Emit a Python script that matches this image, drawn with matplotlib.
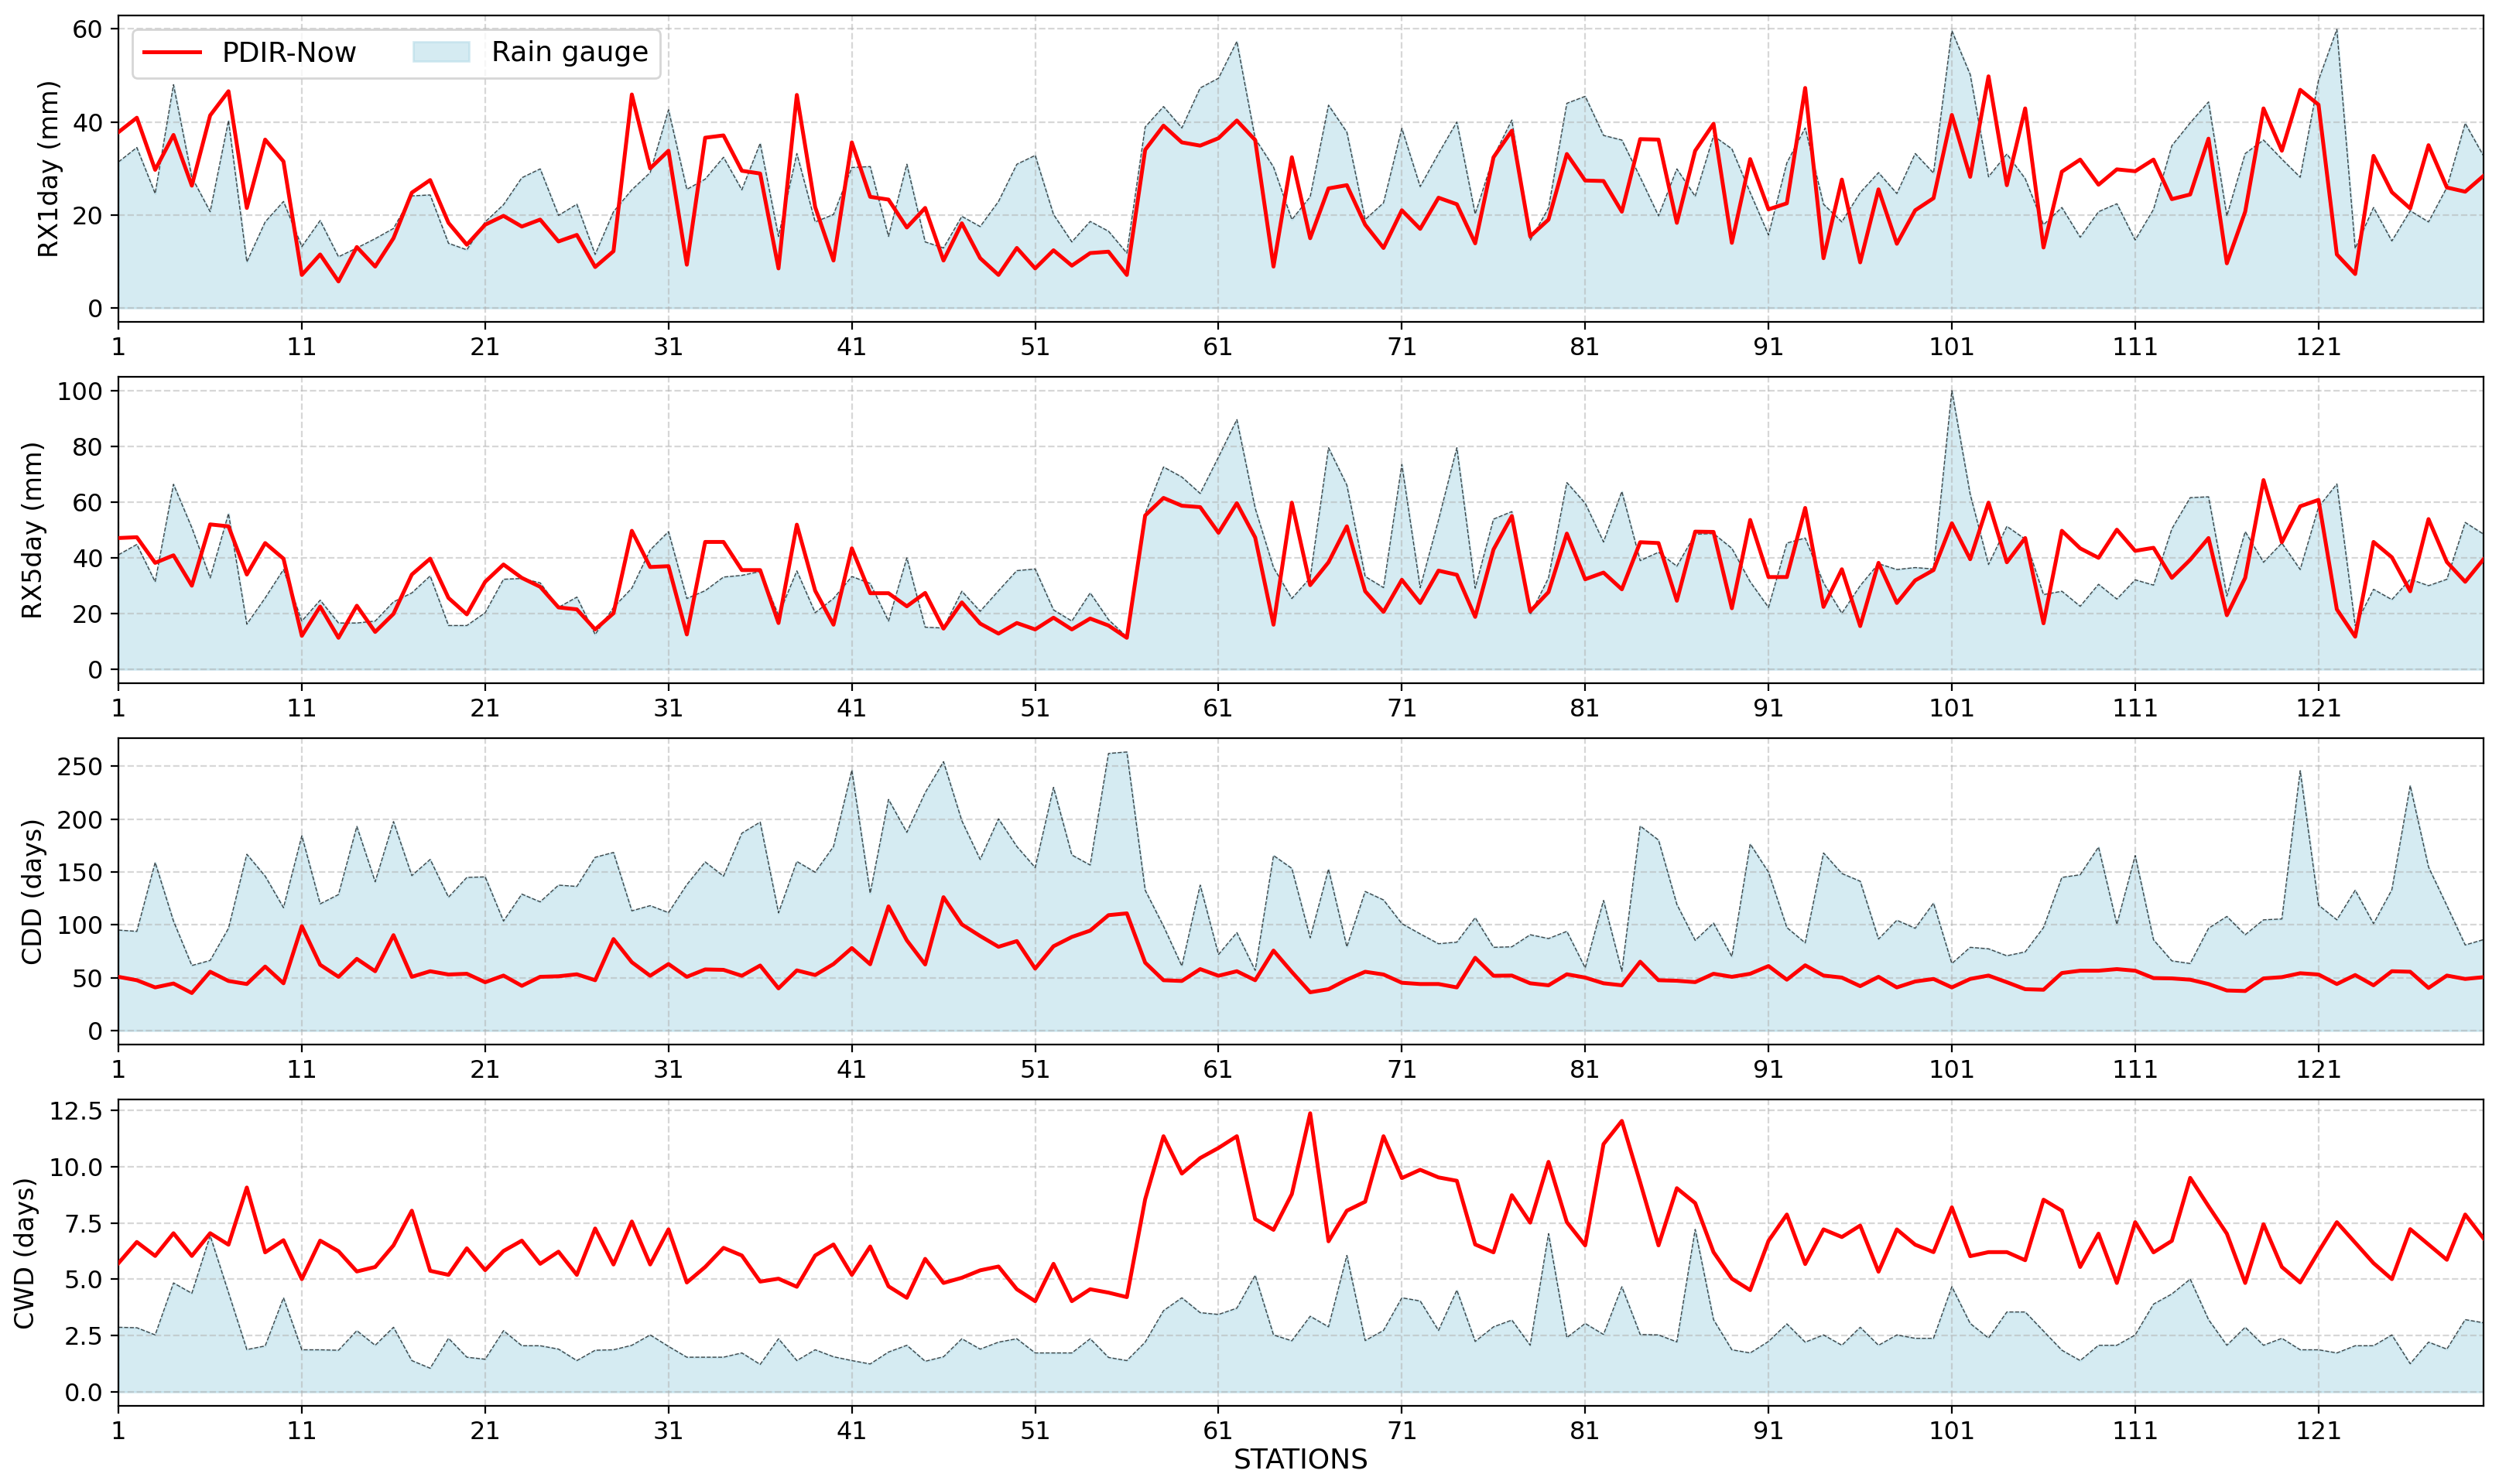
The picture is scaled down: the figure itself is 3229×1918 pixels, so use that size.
import numpy as np
import matplotlib
matplotlib.use('Agg')
import matplotlib.pyplot as plt
from matplotlib.ticker import MultipleLocator

stations = np.arange(1, 131)

rx1_pdir = [37.8, 40.9, 29.7, 37.2, 26.3, 41.4, 46.6, 21.5, 36.2, 31.5,
            7.1, 11.5, 5.7, 13.1, 8.9, 15.0, 24.8, 27.5, 18.3, 13.6,
            17.9, 19.8, 17.5, 19.0, 14.3, 15.7, 8.8, 12.2, 45.9, 30.0,
            33.8, 9.3, 36.6, 37.1, 29.5, 28.9, 8.5, 45.8, 21.7, 10.2,
            35.6, 23.9, 23.3, 17.3, 21.5, 10.2, 18.2, 10.7, 7.1, 12.9,
            8.5, 12.4, 9.1, 11.8, 12.1, 7.1, 34.0, 39.2, 35.6, 34.9,
            36.5, 40.3, 36.1, 8.9, 32.4, 15.0, 25.7, 26.4, 17.9, 12.9,
            21.0, 17.0, 23.7, 22.3, 13.9, 32.4, 38.1, 15.4, 19.0, 33.1,
            27.4, 27.3, 20.7, 36.3, 36.2, 18.3, 33.8, 39.6, 14.0, 32.0,
            21.2, 22.5, 47.3, 10.7, 27.6, 9.8, 25.5, 13.8, 21.0, 23.6,
            41.5, 28.2, 49.8, 26.4, 42.9, 13.0, 29.3, 31.9, 26.5, 29.8,
            29.4, 31.9, 23.4, 24.4, 36.4, 9.6, 20.7, 42.9, 33.8, 46.9,
            43.7, 11.5, 7.3, 32.7, 24.9, 21.4, 35.0, 25.9, 25.0, 28.4]
rx1_gauge = [31.4, 34.5, 24.6, 48.0, 28.1, 20.7, 40.3, 9.9, 18.5, 22.9,
             13.2, 18.8, 11.0, 12.9, 14.9, 17.1, 24.1, 24.3, 13.9, 12.5,
             18.5, 22.2, 28.0, 29.9, 19.9, 22.3, 11.5, 20.7, 25.4, 29.1,
             42.6, 25.5, 27.7, 32.4, 25.4, 35.4, 15.4, 33.2, 18.5, 20.1,
             30.2, 30.4, 15.4, 30.9, 14.2, 12.9, 19.7, 17.5, 22.9, 30.9,
             32.8, 20.1, 14.2, 18.6, 16.5, 11.8, 38.9, 43.3, 38.7, 47.3,
             49.4, 57.3, 36.4, 30.3, 19.0, 23.9, 43.6, 37.8, 19.0, 22.6,
             38.6, 26.1, 33.2, 40.0, 20.2, 32.5, 40.4, 14.5, 21.5, 44.0,
             45.5, 37.1, 36.1, 28.1, 19.8, 29.9, 24.0, 37.0, 34.2, 24.8,
             15.7, 31.2, 38.7, 22.3, 18.5, 24.8, 29.1, 24.6, 33.2, 29.0,
             59.6, 50.2, 28.2, 33.1, 27.8, 17.9, 21.6, 15.2, 20.7, 22.4,
             14.6, 21.2, 34.9, 39.8, 44.3, 19.8, 33.2, 36.1, 32.0, 28.1,
             49.0, 59.9, 12.8, 21.6, 14.4, 20.9, 18.5, 25.9, 39.7, 32.7]

rx5_pdir = [47.1, 47.4, 38.2, 40.9, 30.0, 52.0, 51.3, 34.0, 45.3, 39.7,
            12.0, 22.5, 11.3, 22.8, 13.4, 19.9, 34.0, 39.7, 25.6, 19.7,
            31.4, 37.6, 32.8, 29.6, 22.2, 21.5, 14.3, 20.1, 49.7, 36.7,
            37.0, 12.5, 45.7, 45.7, 35.6, 35.6, 16.6, 51.9, 28.2, 16.0,
            43.4, 27.3, 27.3, 22.6, 27.4, 14.6, 24.0, 16.4, 12.8, 16.6,
            14.3, 18.5, 14.3, 18.2, 15.7, 11.3, 55.2, 61.5, 58.7, 58.2,
            49.0, 59.6, 47.3, 16.0, 59.8, 30.2, 38.4, 51.3, 28.0, 20.6,
            32.1, 23.8, 35.4, 33.9, 18.8, 43.0, 55.0, 20.8, 27.7, 48.7,
            32.3, 34.7, 28.7, 45.6, 45.3, 24.6, 49.4, 49.3, 21.9, 53.6,
            33.1, 33.1, 57.9, 22.4, 35.9, 15.5, 38.2, 23.8, 31.9, 35.6,
            52.4, 39.5, 59.8, 38.4, 47.1, 16.5, 49.7, 43.4, 40.0, 50.1,
            42.5, 43.6, 32.8, 39.3, 47.1, 19.4, 32.8, 67.9, 45.6, 58.5,
            60.8, 21.5, 11.7, 45.7, 40.2, 28.0, 53.9, 38.5, 31.4, 39.5]
rx5_gauge = [41.1, 44.8, 31.4, 66.4, 50.8, 32.8, 55.9, 16.2, 25.6, 35.8,
             17.3, 24.8, 16.6, 16.6, 17.3, 24.2, 27.4, 33.5, 15.7, 15.7,
             20.3, 32.3, 32.6, 31.0, 22.2, 25.9, 12.5, 22.2, 29.1, 42.8,
             49.4, 25.4, 28.2, 33.1, 33.7, 35.1, 19.4, 35.3, 20.3, 25.4,
             33.3, 30.8, 17.3, 40.0, 15.1, 14.8, 28.0, 20.8, 28.2, 35.4,
             36.0, 21.3, 17.3, 27.4, 17.8, 11.6, 55.9, 72.6, 69.0, 63.1,
             76.2, 89.6, 57.8, 36.5, 25.4, 32.8, 79.5, 66.1, 33.3, 29.3,
             73.5, 29.3, 53.6, 79.5, 29.1, 53.9, 56.6, 19.6, 32.8, 67.0,
             59.6, 45.7, 63.8, 39.0, 42.0, 37.0, 48.5, 48.7, 43.4, 31.4,
             22.2, 45.3, 47.1, 31.0, 20.1, 30.0, 37.9, 35.8, 36.5, 36.0,
             100.0, 62.8, 37.6, 51.3, 46.7, 26.8, 28.0, 22.6, 30.5, 25.2,
             32.1, 30.2, 50.4, 61.6, 61.9, 26.3, 49.4, 38.4, 45.3, 35.8,
             58.2, 66.5, 15.7, 28.7, 25.0, 32.3, 30.0, 32.3, 52.7, 48.5]

cdd_pdir = [50.8, 47.6, 40.8, 44.5, 35.5, 55.6, 46.9, 44.0, 60.5, 44.7,
            98.7, 62.2, 50.8, 67.8, 56.1, 90.2, 50.8, 56.1, 53.0, 53.7,
            45.7, 52.0, 42.3, 50.8, 51.3, 53.2, 47.6, 86.5, 64.6, 51.8,
            62.9, 50.8, 57.8, 57.4, 51.8, 61.5, 39.9, 56.9, 52.5, 62.9,
            78.0, 62.7, 117.4, 85.3, 62.5, 126.1, 100.4, 89.4, 79.2, 84.6,
            58.6, 79.7, 88.5, 94.5, 109.1, 110.8, 64.2, 47.6, 46.9, 58.1,
            51.8, 56.1, 47.6, 75.6, 55.4, 36.2, 39.1, 48.1, 55.6, 53.0,
            45.2, 44.0, 44.0, 40.8, 68.8, 51.8, 52.0, 44.7, 42.8, 53.2,
            50.1, 44.7, 42.8, 65.1, 47.6, 47.1, 45.8, 53.7, 50.8, 53.7,
            61.0, 48.1, 61.7, 52.0, 50.1, 42.0, 50.8, 40.8, 46.4, 48.8,
            40.8, 48.8, 52.0, 45.7, 39.1, 38.6, 54.4, 56.6, 56.6, 58.1,
            56.6, 49.6, 49.3, 48.1, 44.0, 37.9, 37.4, 49.3, 50.5, 54.2,
            53.0, 44.0, 52.5, 42.8, 56.1, 55.6, 40.3, 52.0, 48.8, 50.5]
cdd_gauge = [95.0, 93.8, 158.9, 103.5, 61.5, 66.3, 96.7, 166.7, 146.0, 116.2,
             184.2, 119.8, 128.6, 193.0, 140.7, 197.6, 146.5, 161.8, 126.1, 144.8,
             145.3, 103.5, 129.0, 121.7, 137.5, 136.3, 163.8, 168.4, 113.2, 118.1,
             111.5, 138.0, 159.4, 146.0, 186.6, 197.1, 111.3, 159.9, 149.7, 174.0,
             246.2, 129.8, 218.5, 187.4, 225.0, 254.2, 198.3, 161.8, 200.2, 174.0,
             154.1, 229.9, 166.0, 156.5, 262.0, 263.4, 132.7, 98.7, 61.0, 137.5,
             71.9, 92.6, 56.9, 165.5, 153.3, 87.7, 152.6, 79.2, 131.5, 123.5,
             101.1, 91.4, 82.1, 83.6, 106.7, 78.7, 79.2, 90.6, 87.0, 93.8,
             59.3, 123.0, 56.1, 193.4, 180.1, 119.3, 85.3, 101.6, 70.0, 176.4,
             149.7, 97.4, 82.9, 167.9, 148.5, 141.2, 86.5, 104.3, 96.7, 120.5,
             63.4, 78.7, 77.3, 70.7, 74.4, 97.4, 144.8, 147.3, 173.5, 100.4,
             165.5, 85.8, 65.9, 63.4, 96.7, 107.9, 90.6, 104.7, 105.5, 245.7,
             118.6, 104.7, 132.7, 101.1, 133.2, 231.6, 154.6, 118.1, 80.9, 86.0]

cwd_pdir = [5.72, 6.66, 6.04, 7.05, 6.04, 7.05, 6.54, 9.08, 6.2, 6.74,
            5.01, 6.72, 6.25, 5.35, 5.55, 6.51, 8.05, 5.38, 5.2, 6.38,
            5.41, 6.26, 6.72, 5.69, 6.23, 5.2, 7.26, 5.66, 7.57, 5.66,
            7.22, 4.86, 5.55, 6.4, 6.06, 4.9, 5.03, 4.67, 6.06, 6.55,
            5.2, 6.46, 4.69, 4.18, 5.91, 4.84, 5.07, 5.4, 5.57, 4.56,
            4.03, 5.69, 4.03, 4.56, 4.41, 4.21, 8.56, 11.36, 9.7, 10.39,
            10.84, 11.36, 7.68, 7.2, 8.79, 12.38, 6.69, 8.05, 8.45, 11.36,
            9.5, 9.87, 9.53, 9.38, 6.55, 6.2, 8.74, 7.52, 10.22, 7.54,
            6.51, 11.01, 12.04, 9.31, 6.51, 9.05, 8.39, 6.21, 5.03, 4.52,
            6.71, 7.88, 5.68, 7.22, 6.88, 7.39, 5.34, 7.22, 6.54, 6.21,
            8.2, 6.03, 6.21, 6.21, 5.85, 8.54, 8.05, 5.55, 7.03, 4.84,
            7.54, 6.2, 6.71, 9.51, 8.25, 7.03, 4.84, 7.45, 5.55, 4.86,
            6.23, 7.54, 6.63, 5.72, 5.01, 7.23, 6.55, 5.87, 7.88, 6.82]
cwd_gauge = [2.87, 2.85, 2.53, 4.84, 4.38, 6.94, 4.41, 1.88, 2.04, 4.18,
             1.87, 1.87, 1.85, 2.72, 2.07, 2.87, 1.39, 1.05, 2.38, 1.54,
             1.45, 2.72, 2.05, 2.05, 1.9, 1.39, 1.85, 1.87, 2.07, 2.53,
             2.02, 1.54, 1.54, 1.54, 1.73, 1.22, 2.36, 1.39, 1.87, 1.56,
             1.39, 1.24, 1.77, 2.07, 1.36, 1.56, 2.36, 1.9, 2.21, 2.36,
             1.73, 1.73, 1.73, 2.36, 1.53, 1.39, 2.21, 3.61, 4.18, 3.52,
             3.44, 3.72, 5.18, 2.53, 2.27, 3.36, 2.89, 6.06, 2.28, 2.73,
             4.18, 4.04, 2.73, 4.52, 2.24, 2.89, 3.19, 2.07, 7.03, 2.41,
             3.04, 2.55, 4.67, 2.55, 2.53, 2.22, 7.22, 3.21, 1.87, 1.73,
             2.24, 3.02, 2.21, 2.53, 2.07, 2.87, 2.07, 2.53, 2.38, 2.38,
             4.67, 3.04, 2.39, 3.55, 3.55, 2.7, 1.85, 1.39, 2.07, 2.07,
             2.53, 3.9, 4.35, 5.01, 3.21, 2.07, 2.87, 2.07, 2.38, 1.87,
             1.87, 1.73, 2.05, 2.05, 2.53, 1.25, 2.21, 1.9, 3.21, 3.07]

ylabels = ['RX1day (mm)', 'RX5day (mm)', 'CDD (days)', 'CWD (days)']
pdir_all = [rx1_pdir, rx5_pdir, cdd_pdir, cwd_pdir]
gauge_all = [rx1_gauge, rx5_gauge, cdd_gauge, cwd_gauge]
xticks = np.arange(1, 131, 10)

fig, axes = plt.subplots(4, 1, figsize=(16.15, 9.59), dpi=200)
fig.subplots_adjust(left=0.0474, right=0.9935, top=0.9896, bottom=0.0527, hspace=0.179)

for ax, lab, pdir, gauge in zip(axes, ylabels, pdir_all, gauge_all):
    ax.plot(stations, pdir, color='red', linewidth=1.8, label='PDIR-Now', zorder=3)
    ax.fill_between(stations, 0, gauge, color='lightblue', alpha=0.5, label='Rain gauge')
    ax.plot(stations, gauge, color='black', linestyle='--', linewidth=0.5, alpha=0.7)
    ax.set_xlim(1, 130)
    ax.set_xticks(xticks)
    ax.set_ylabel(lab, fontsize=12)
    ax.tick_params(labelsize=11.5)
    ax.grid(True, linestyle='--', alpha=0.5)

axes[3].yaxis.set_major_locator(MultipleLocator(2.5))
axes[0].legend(loc='upper left', ncol=2, fontsize=13)
axes[-1].set_xlabel('STATIONS', fontsize=13, labelpad=1)

fig.savefig('out.png', dpi=200)
